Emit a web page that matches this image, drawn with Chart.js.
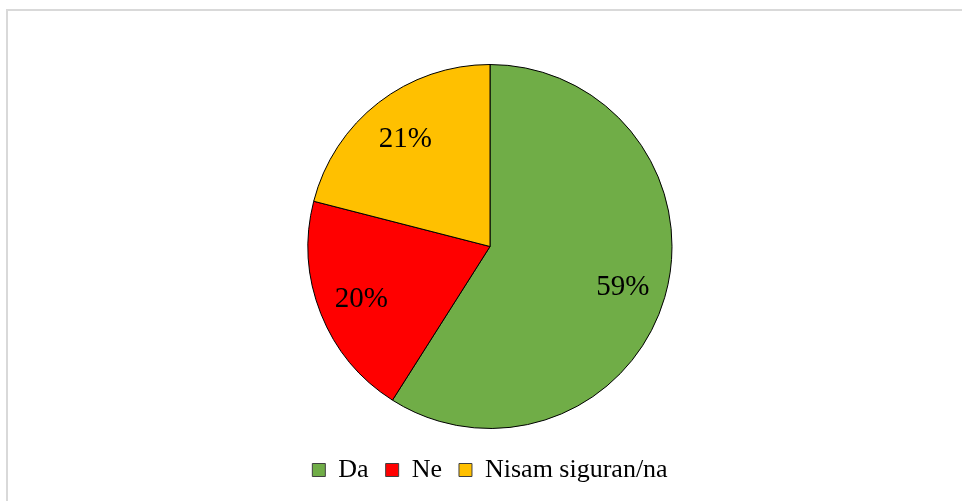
<!DOCTYPE html>
<html>
<head>
<meta charset="utf-8">
<script src="https://cdn.jsdelivr.net/npm/chart.js@4"></script>
<style>
  html, body { margin: 0; padding: 0; background: #fff; }
  #wrap { width: 962px; height: 501px; position: relative; }
</style>
</head>
<body>
<div id="wrap"><canvas id="pieChart" width="962" height="501"></canvas></div>
<script>
const odgovori = ['Da', 'Ne', 'Nisam siguran/na'];
const postotci = [59, 20, 21];
const boje = ['#70AD47', '#FF0000', '#FFC000'];

// okvir oko grafa (sivi rub)
const okvirPlugin = {
    id: 'okvir',
    beforeDraw(chart) {
        const ctx = chart.ctx;
        ctx.save();
        ctx.fillStyle = '#ffffff';
        ctx.fillRect(0, 0, chart.width, chart.height);
        ctx.strokeStyle = '#d9d9d9';
        ctx.lineWidth = 2;
        ctx.strokeRect(7, 10, chart.width + 20, chart.height + 20);
        ctx.restore();
    }
};

// postotci unutar kriski
const oznakePlugin = {
    id: 'oznake',
    afterDatasetsDraw(chart) {
        const ctx = chart.ctx;
        const meta = chart.getDatasetMeta(0);
        ctx.save();
        ctx.font = '29px "Liberation Serif", "Times New Roman", serif';
        ctx.fillStyle = '#000';
        ctx.textAlign = 'center';
        ctx.textBaseline = 'middle';
        meta.data.forEach((arc, i) => {
            const p = arc.getProps(['x', 'y', 'startAngle', 'endAngle', 'outerRadius'], true);
            const kut = (p.startAngle + p.endAngle) / 2;
            const r = p.outerRadius * 0.76;
            ctx.fillText(postotci[i] + '%', p.x + Math.cos(kut) * r, p.y + Math.sin(kut) * r + 2);
        });
        ctx.restore();
    }
};

const ctx = document.getElementById('pieChart').getContext('2d');
new Chart(ctx, {
    type: 'pie',
    data: {
        labels: odgovori,
        datasets: [{
            data: postotci,
            backgroundColor: boje,
            borderColor: '#000',
            borderWidth: 1,
            radius: 182
        }]
    },
    options: {
        responsive: false,
        animation: false,
        layout: { padding: { top: 53, bottom: 8, left: 18, right: 0 } },
        plugins: {
            tooltip: { enabled: false },
            legend: {
                position: 'bottom',
                labels: {
                    boxWidth: 13,
                    boxHeight: 13,
                    padding: 17,
                    color: '#000',
                    font: { family: '"Liberation Serif", "Times New Roman", serif', size: 26 },
                    generateLabels(chart) {
                        return odgovori.map((o, i) => ({
                            text: o,
                            fillStyle: boje[i],
                            strokeStyle: '#404040',
                            lineWidth: 1,
                            index: i
                        }));
                    }
                }
            }
        }
    },
    plugins: [okvirPlugin, oznakePlugin]
});
</script>
</body>
</html>
